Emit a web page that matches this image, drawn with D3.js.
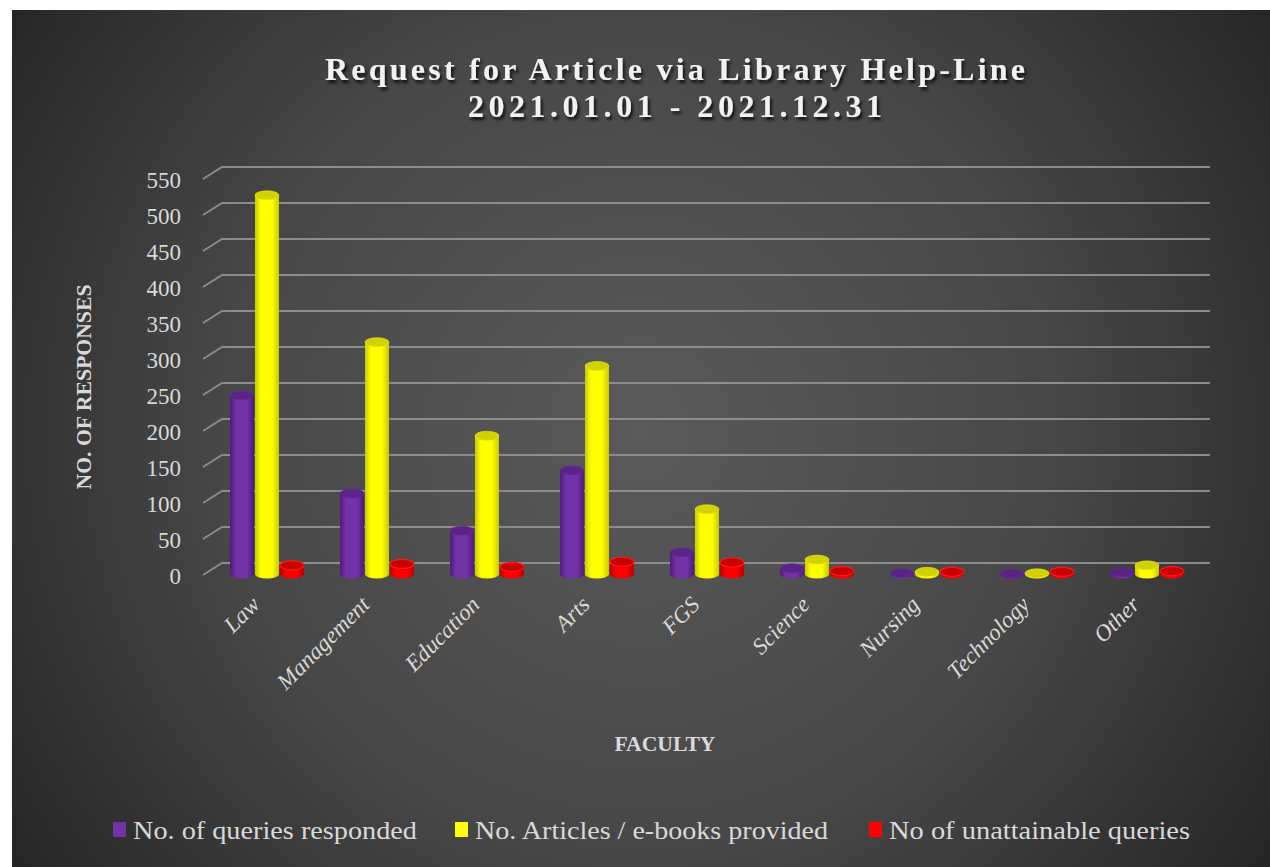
<!DOCTYPE html>
<html><head><meta charset="utf-8">
<script src="https://cdn.jsdelivr.net/npm/d3@7"></script>
<style>body{margin:0;background:#fff;}svg{display:block;}</style>
</head><body>
<svg id="chart" width="1270" height="867"></svg>
<script>
const categories = ["Law","Management","Education","Arts","FGS","Science","Nursing","Technology","Other"];
const seriesNames = ["No. of queries responded","No. Articles / e-books provided","No of unattainable queries"];
const responded = [248, 112, 60, 144, 30, 8, 1, 0, 2];
const provided = [526, 322, 192, 289, 90, 20, 3, 1, 12];
const unattainable = [12, 14, 10, 17, 16, 4, 3, 3, 4];
const yTicks = [0,50,100,150,200,250,300,350,400,450,500,550];
const titleLines = ["Request for Article via Library Help-Line","2021.01.01 - 2021.12.31"];

const seriesValues = [responded, provided, unattainable];
const colors = [
  {side:"#4e1c75", body:"#7232a8", top:"#5a2388", rim:"#6a2c9c"},
  {side:"#c8c800", body:"#ffff00", top:"#d2d200", rim:"#e6e600"},
  {side:"#b80000", body:"#ff0000", top:"#c80000", rim:"#ff1a1a"}
];

const svg = d3.select("#chart");
const defs = svg.append("defs");
const bg = defs.append("radialGradient").attr("id","bg")
  .attr("gradientUnits","userSpaceOnUse").attr("cx",640).attr("cy",430).attr("r",760);
bg.append("stop").attr("offset","0").attr("stop-color","#5a5a5a");
bg.append("stop").attr("offset","0.55").attr("stop-color","#474747");
bg.append("stop").attr("offset","1").attr("stop-color","#262626");

colors.forEach((c,i)=>{
  const g = defs.append("linearGradient").attr("id","cyl"+i).attr("x1","0").attr("x2","1").attr("y1","0").attr("y2","0");
  g.append("stop").attr("offset","0").attr("stop-color",c.side);
  g.append("stop").attr("offset","0.25").attr("stop-color",c.body);
  g.append("stop").attr("offset","0.7").attr("stop-color",c.body);
  g.append("stop").attr("offset","1").attr("stop-color",c.side);
});
const sh = defs.append("filter").attr("id","shadow").attr("x","-10%").attr("y","-30%").attr("width","120%").attr("height","160%");
sh.append("feDropShadow").attr("dx",2).attr("dy",3).attr("stdDeviation",1.5).attr("flood-color","#000").attr("flood-opacity",0.75);

svg.append("rect").attr("x",12).attr("y",10).attr("width",1258).attr("height",857).attr("fill","url(#bg)");

const x = d3.scaleBand().domain(categories).range([212, 1202]);
const xs = d3.scaleBand().domain(seriesNames).range([-37.5, 37.5]);
const yBack = d3.scaleLinear().domain([0,550]).range([563,167]);
const yBar = d3.scaleLinear().domain([0,550]).range([574,178]);
const depthX = 19, depthY = 12;

// gridlines (back wall + left side diagonal)
const grid = svg.append("g");
yTicks.forEach(t=>{
  const yb = yBack(t);
  grid.append("path")
    .attr("d", `M${222-depthX},${yb+depthY} L222,${yb} L1210,${yb}`)
    .attr("fill","none").attr("stroke","#8c8c8c").attr("stroke-width",2);
});

// y tick labels
svg.append("g").selectAll("text").data(yTicks).join("text")
  .attr("x",181).attr("y",d=>yBack(d)+depthY+4)
  .attr("text-anchor","end").attr("dominant-baseline","middle")
  .attr("font-family","Liberation Serif, serif").attr("font-size",23)
  .attr("fill","#d9d9d9").text(d=>d);

// cylinders
const w = 24, ry = 4.5;
const bars = svg.append("g");
categories.forEach((cat,ci)=>{
  seriesNames.forEach((s,si)=>{
    const v = seriesValues[si][ci];
    const cx = x(cat) + x.bandwidth()/2 + xs(s) + xs.bandwidth()/2;
    const base = yBar(0), top = yBar(v);
    const c = colors[si];
    const l = cx - w/2, r = cx + w/2;
    bars.append("path")
      .attr("d", `M${l},${top} L${l},${base} A${w/2},${ry} 0 0 0 ${r},${base} L${r},${top} Z`)
      .attr("fill", `url(#cyl${si})`);
    bars.append("ellipse").attr("cx",cx).attr("cy",top).attr("rx",w/2).attr("ry",ry)
      .attr("fill",c.top).attr("stroke",c.rim).attr("stroke-width", si===2?1.2:0.6);
  });
});

// category labels
svg.append("g").selectAll("text").data(categories).join("text")
  .attr("transform", d=>`translate(${x(d)+x.bandwidth()/2-6},${606}) rotate(-45)`)
  .attr("text-anchor","end")
  .attr("font-family","Liberation Serif, serif").attr("font-style","italic").attr("font-size",23)
  .attr("fill","#d9d9d9").text(d=>d);

// axis titles
svg.append("text").attr("transform","translate(91,387) rotate(-90)")
  .attr("text-anchor","middle").attr("font-family","Liberation Serif, serif")
  .attr("font-weight","bold").attr("font-size",22).attr("fill","#d9d9d9")
  .attr("textLength",205).attr("lengthAdjust","spacingAndGlyphs")
  .text("NO. OF RESPONSES");
svg.append("text").attr("x",665).attr("y",751)
  .attr("text-anchor","middle").attr("font-family","Liberation Serif, serif")
  .attr("font-weight","bold").attr("font-size",22).attr("fill","#d9d9d9")
  .attr("textLength",101).attr("lengthAdjust","spacingAndGlyphs")
  .text("FACULTY");

// title
const titleW = [700, 414];
svg.append("g").attr("filter","url(#shadow)").selectAll("text").data(titleLines).join("text")
  .attr("x",675).attr("y",(d,i)=>80+i*37)
  .attr("text-anchor","middle").attr("font-family","Liberation Serif, serif")
  .attr("font-weight","bold").attr("font-size",32).attr("fill","#f2f2f2")
  .attr("textLength",(d,i)=>titleW[i]).attr("lengthAdjust","spacing")
  .text(d=>d);

// legend
const legX = [113, 455, 869];
const legW = [284, 353, 301];
const leg = svg.append("g");
seriesNames.forEach((s,i)=>{
  leg.append("rect").attr("x",legX[i]).attr("y",822).attr("width",13).attr("height",15).attr("fill",colors[i].body);
  leg.append("text").attr("x",legX[i]+20).attr("y",839)
    .attr("font-family","Liberation Serif, serif").attr("font-size",25)
    .attr("textLength",legW[i]).attr("lengthAdjust","spacingAndGlyphs")
    .attr("fill","#d9d9d9").text(s);
});
</script>
</body></html>
